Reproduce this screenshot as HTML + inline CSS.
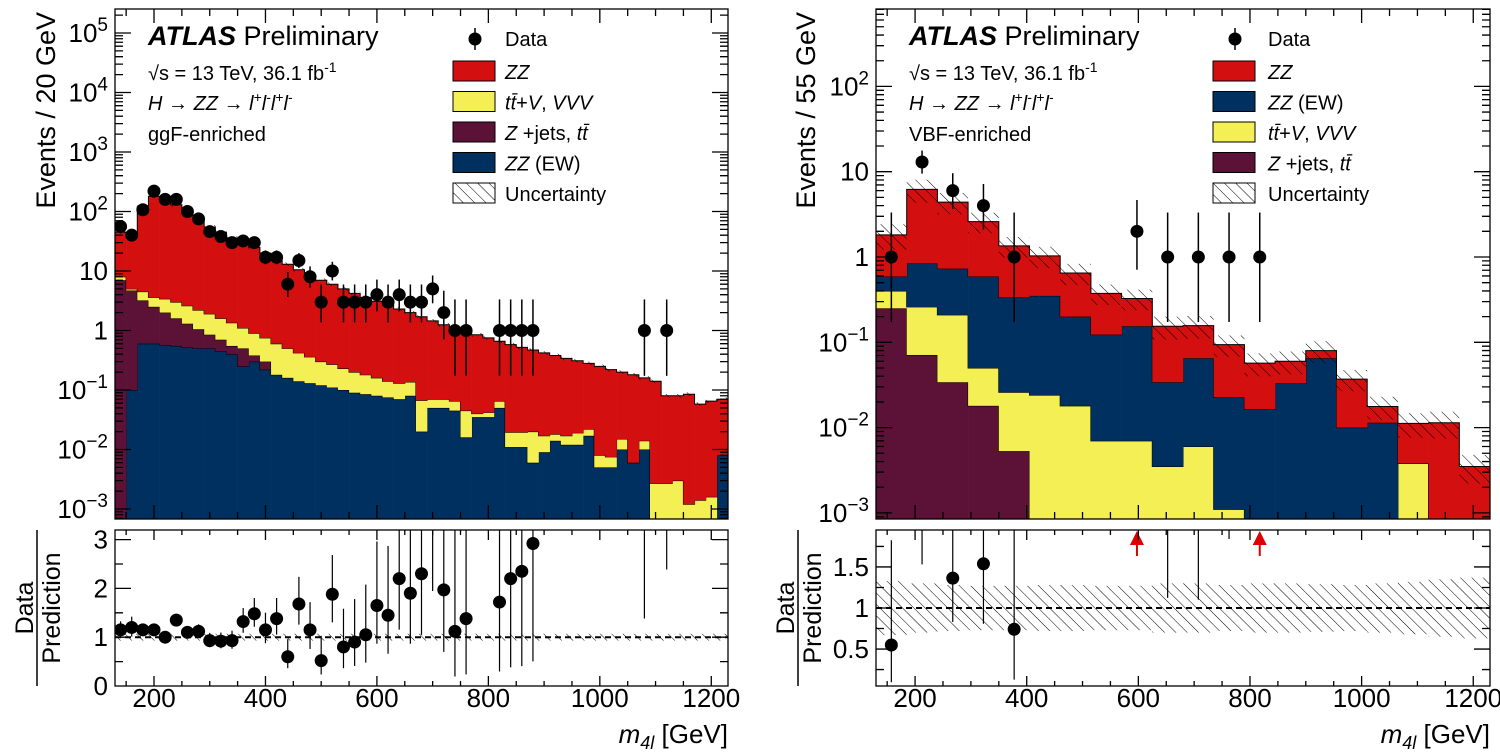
<!DOCTYPE html>
<html><head><meta charset="utf-8"><style>
html,body{margin:0;padding:0;background:#fff;}
svg{display:block;font-family:"Liberation Sans",Arial,sans-serif;}
</style></head><body>
<svg id="fig" width="1500" height="752" viewBox="0 0 1500 752" xmlns="http://www.w3.org/2000/svg">
<defs>
<pattern id="hatch" patternUnits="userSpaceOnUse" width="8" height="8" patternTransform="rotate(-45)">
<line x1="0" y1="0" x2="0" y2="8" stroke="#000" stroke-width="1"/>
</pattern>
<clipPath id="clipLM"><rect x="115" y="9" width="613" height="510"/></clipPath>
<clipPath id="clipRM"><rect x="876" y="9" width="614" height="510"/></clipPath>
<clipPath id="clipLR"><rect x="115" y="530" width="613" height="156"/></clipPath>
<clipPath id="clipRR"><rect x="876" y="530" width="614" height="156"/></clipPath>
</defs>
</svg>
<script>
// ---------- LEFT (ggF-enriched), 20 GeV bins from 130 ----------
const leftEwTop = [0.0005,0.1,0.6,0.6,0.57,0.55,0.52,0.5,0.5,0.45,0.4,0.25,0.3,0.22,0.18,0.16,0.14,0.13,0.12,0.11,0.1,0.09,0.085,0.08,0.075,0.07,0.08,0.02,0.05,0.05,0.045,0.016,0.035,0.035,0.05,0.011,0.011,0.006,0.009,0.014,0.012,0.012,0.017,0.005,0.005,0.01,0.006,0.01,0.0005,0.0005,0.0005,0.0005,0.0005,0.0005,0.008];
const leftZjetsTop = [7,4.7,3.2,2.5,2.0,1.6,1.3,1.05,0.85,0.7,0.55,0.5,0.38,0.3,0,0,0,0,0,0,0,0,0,0,0,0,0,0,0,0,0,0,0,0,0,0,0,0,0,0,0,0,0,0,0,0,0,0,0,0,0,0,0,0,0];
const leftTtvTop = [8,5,4.5,3.6,3.4,3.0,2.6,2.2,1.9,1.6,1.35,1.1,0.9,0.75,0.6,0.5,0.42,0.36,0.3,0.27,0.23,0.2,0.18,0.16,0.14,0.13,0.136,0.067,0.07,0.07,0.065,0.045,0.04,0.042,0.065,0.0195,0.0195,0.02,0.017,0.018,0.017,0.019,0.022,0.008,0.0075,0.015,0.006,0.014,0.0027,0.0027,0.003,0.0012,0.0014,0.0016,0.0078];
const leftZzTop = [45,40,120,180,150,130,100,75,55,45,36,30,25,20,16,13,10.5,8.5,7,6,5,4.2,3.6,3.1,2.7,2.3,2.0,1.7,1.45,1.25,1.1,0.95,0.85,0.75,0.66,0.58,0.52,0.47,0.42,0.38,0.34,0.31,0.28,0.25,0.22,0.2,0.18,0.16,0.14,0.08,0.08,0.085,0.058,0.065,0.07];
const leftData = [56,40,107,220,160,160,100,75,46,38,30,32,30,17,17,6,15,8,3,10,3,3,3,4,3,4,3,3,5,2,1,1,0,0,1,1,1,1,0,0,0,0,0,0,0,0,0,1,0,1,0,0,0,0,0];
const leftRatio = [1.15,1.2,1.15,1.15,1.0,1.35,1.1,1.12,0.93,0.92,0.93,1.32,1.48,1.15,1.38,0.6,1.68,1.15,0.52,1.88,0.8,0.9,1.05,1.65,1.45,2.2,1.9,2.3,3.4,1.97,1.12,1.38,0,0,1.72,2.2,2.35,2.92,0,0,0,0,0,0,0,0,0,8,0,13.8,0,0,0,0,0];
const leftUnc = [0.07,0.07,0.07,0.07,0.07,0.07,0.07,0.07,0.07,0.07,0.07,0.07,0.07,0.07,0.07,0.07,0.07,0.07,0.07,0.07,0.07,0.07,0.07,0.07,0.07,0.07,0.07,0.07,0.07,0.07,0.07,0.07,0.07,0.07,0.07,0.07,0.07,0.07,0.07,0.07,0.07,0.07,0.07,0.07,0.07,0.07,0.07,0.07,0.07,0.07,0.07,0.07,0.07,0.07,0.07];
// ---------- RIGHT (VBF-enriched), 55 GeV bins from 130 ----------
const rightZjetsTop = [0.25,0.071,0.034,0.018,0.0053,0,0,0,0,0,0,0,0,0,0,0,0,0,0,0];
const rightTtvTop = [0.4,0.26,0.21,0.05,0.026,0.024,0.018,0.007,0.007,0.0035,0.006,0.0011,0.0005,0.0005,0.0005,0.0005,0.0005,0.0038,0.0005,0.0005];
const rightEwTop = [0.59,0.84,0.73,0.59,0.336,0.35,0.2,0.123,0.154,0.034,0.065,0.0227,0.0165,0.033,0.065,0.01,0.0114,0.0005,0.0005,0.0005];
const rightZzTop = [1.82,6.2,4.4,2.6,1.35,1.03,0.65,0.375,0.326,0.154,0.157,0.094,0.057,0.06,0.08,0.037,0.0177,0.0112,0.0114,0.0035];
const rightData = [1,13,6,4,1,0,0,0,2,1,1,1,1,0,0,0,0,0,0,0];
const rightUnc = [0.33,0.3,0.28,0.27,0.27,0.28,0.28,0.27,0.27,0.3,0.3,0.28,0.3,0.3,0.29,0.28,0.3,0.32,0.35,0.37];
const xTickLabels = [200,400,600,800,1000,1200];
const leftLogTicks = [-3,-2,-1,0,1,2,3,4,5];
const rightLogTicks = [-3,-2,-1,0,1,2];
const leftRatioTicks = [0,1,2,3];
const rightRatioTicks = [0.5,1,1.5];

const NS = "http://www.w3.org/2000/svg";
const svg = document.getElementById('fig');
function mk(tag, attrs, parent){ const e=document.createElementNS(NS,tag); for(const k in attrs) e.setAttribute(k,attrs[k]); (parent||svg).appendChild(e); return e; }

const COL = {zz:'#d3100f', ew:'#00305f', ttv:'#f4ef55', zj:'#5c1236'};

function errDown(n){ if(n<=0) return 0; if(n===1) return 0.827; if(n===2) return 1.29; return Math.sqrt(n)-0.1; }
function errUp(n){ return Math.sqrt(n+0.75)+1; }

function makePanel(cfg){
  const X = g => cfg.x0 + (g-130)*(cfg.w/1100);
  const Y = v => cfg.yRef + (cfg.ref - Math.log10(Math.max(v,1e-9)))*cfg.dec;
  const yBot = 519, yTop = 9;
  const YR = r => cfg.r1 - (r-1)*cfg.rs;
  const gm = mk('g',{'clip-path':'url(#'+cfg.clipM+')'});
  
  
  const layers = cfg.layers;
  const nb = layers[0].vals.length;
  const cum = [];
  for(let i=0;i<nb;i++){
    let prev=0; const c=[];
    for(const L of layers){ prev=Math.max(prev, L.vals[i]); c.push(prev); }
    cum.push(c);
  }
  layers.forEach((L,k)=>{
    const g = mk('g',{}, gm);
    
    
    let d='';
    for(let i=0;i<nb;i++){
      const lo = k===0 ? yBot+2 : Math.min(yBot+2, Y(cum[i][k-1]));
      const hi = Math.min(yBot+2, Y(cum[i][k]));
      if(lo-hi>0.01){
        const r = mk('rect',{x:X(130+i*cfg.bw), y:hi, width:X(130+(i+1)*cfg.bw)-X(130+i*cfg.bw)+0.3, height:lo-hi, fill:L.color}, g);
        
        
      }
      const yy = Math.min(yBot+2, Y(cum[i][k]));
      d += (i===0?'M':'L')+X(130+i*cfg.bw)+','+yy+'L'+X(130+(i+1)*cfg.bw)+','+yy;
    }
    const p = mk('path',{d:d, fill:'none', stroke:'#000','stroke-width':1}, g);
    
    
  });
  // uncertainty hatch
  const gu = mk('g',{}, gm);
  
  
  for(let i=0;i<nb;i++){
    const t = cum[i][layers.length-1];
    const a = Y(t*(1+cfg.unc[i])), b = Y(t*(1-cfg.unc[i]));
    mk('rect',{x:X(130+i*cfg.bw), y:a, width:X(130+(i+1)*cfg.bw)-X(130+i*cfg.bw), height:b-a, fill:'url(#hatch)'}, gu);
  }
  // data
  const gd = mk('g',{}, gm);
  
  
  cfg.data.forEach((n,i)=>{
    if(n<=0) return;
    const cx = X(130+(i+0.5)*cfg.bw);
    mk('line',{x1:cx,x2:cx,y1:Y(n+errUp(n)),y2:Math.min(yBot+5,Y(Math.max(n-errDown(n),1e-6))),stroke:'#000','stroke-width':1.5}, gd);
    const c = mk('circle',{cx:cx, cy:Y(n), r:6.5, fill:'#000'}, gd);
    
    
  });
  // ratio
  const gr = mk('g',{'clip-path':'url(#'+cfg.clipR+')'});
  
  
  for(let i=0;i<nb;i++){
    const a = YR(1+cfg.unc[i]), b = YR(1-cfg.unc[i]);
    mk('rect',{x:X(130+i*cfg.bw), y:a, width:X(130+(i+1)*cfg.bw)-X(130+i*cfg.bw), height:b-a, fill:'url(#hatch)'}, gr);
  }
  const dl = mk('line',{x1:cfg.x0,x2:cfg.x0+cfg.w,y1:YR(1),y2:YR(1),stroke:'#000','stroke-width':2,'stroke-dasharray':'6,4'}, gr);
  
  
  const rmax = cfg.rMax;
  cfg.data.forEach((n,i)=>{
    if(n<=0) return;
    const r = cfg.ratio ? cfg.ratio[i] : n/cum[i][layers.length-1];
    if(!(r>0)) return;
    const cx = X(130+(i+0.5)*cfg.bw);
    const lo = r*(1-errDown(n)/n), hi = r*(1+errUp(n)/n);
    if(lo>rmax){
      const ar = mk('g',{}, svg);
      
      
      mk('line',{x1:cx,x2:cx,y1:556,y2:540,stroke:'#d00','stroke-width':2}, ar);
      mk('path',{d:`M${cx-7},${545}L${cx},${531}L${cx+7},${545}Z`, fill:'#d00'}, ar);
      return;
    }
    mk('line',{x1:cx,x2:cx,y1:YR(hi),y2:YR(lo),stroke:'#000','stroke-width':1.2}, gr);
    if(r<=rmax){
      const c = mk('circle',{cx:cx, cy:YR(r), r:6.5, fill:'#000'}, gr);
      
      
    }
  });
  // frames and ticks
  const ga = mk('g',{fill:'none',stroke:'#000','stroke-width':1.3});
  
  
  mk('rect',{x:cfg.x0,y:yTop,width:cfg.w,height:yBot-yTop}, ga);
  mk('rect',{x:cfg.x0,y:530,width:cfg.w,height:156}, ga);
  let d='';
  for(let g=150; g<=1230; g+=50){
    const x=X(g); const L = g%200===0?14:7; const Lr = g%200===0?10:5;
    d+=`M${x},${yBot}v${-L}M${x},${yTop}v${L}M${x},686v${-Lr}M${x},530v${Lr}`;
  }
  for(let e=cfg.logMin; e<=cfg.logMax; e++){
    for(let m=1;m<10;m++){
      const y = Y(m*Math.pow(10,e)); if(y<yTop||y>yBot) continue;
      const L = m===1?16:8;
      d+=`M${cfg.x0},${y}h${L}M${cfg.x0+cfg.w},${y}h${-L}`;
    }
  }
  cfg.rMinor.forEach(r=>{ const y=YR(r); const L=(cfg.rTicks.indexOf(r)>=0)?16:8; d+=`M${cfg.x0},${y}h${L}M${cfg.x0+cfg.w},${y}h${-L}`; });
  mk('path',{d:d}, ga);
  // labels
  const gl = mk('g',{'font-size':26,fill:'#000'});
  
  
  cfg.logTicks.forEach(e=>{
    const t = mk('text',{x:cfg.x0-7, y:Y(Math.pow(10,e))+9,'text-anchor':'end'}, gl);
    if(e===0) t.textContent='1';
    else if(e===1) t.textContent='10';
    else { t.textContent='10'; const s=mk('tspan',{dy:-11,'font-size':19}, t); s.textContent=(e<0?'\u2212':'')+Math.abs(e); }
  });
  cfg.rTicks.forEach(r=>{
    const t = mk('text',{x:cfg.x0-7, y:YR(r)+9,'text-anchor':'end'}, gl); t.textContent=String(r);
  });
  xTickLabels.forEach(v=>{
    const t = mk('text',{x:X(v), y:707,'text-anchor':'middle'}, gl); t.textContent=String(v);
  });
}

makePanel({id:'ggf', x0:115, w:613, bw:20, yRef:33, ref:5, dec:59.5, clipM:'clipLM', clipR:'clipLR',
  layers:[{name:'zz-ew',vals:leftEwTop,color:COL.ew},{name:'z-jets-ttbar',vals:leftZjetsTop,color:COL.zj},{name:'ttv-vvv',vals:leftTtvTop,color:COL.ttv},{name:'zz',vals:leftZzTop,color:COL.zz}],
  unc:leftUnc, data:leftData, ratio:leftRatio, r1:637.2, rs:48.8, rMax:3.2, logMin:-4, logMax:5, logTicks:leftLogTicks,
  rTicks:leftRatioTicks, rMinor:[0.5,1,1.5,2,2.5,3]});
makePanel({id:'vbf', x0:876, w:614, bw:55, yRef:257, ref:0, dec:85.3, clipM:'clipRM', clipR:'clipRR',
  layers:[{name:'z-jets-ttbar',vals:rightZjetsTop,color:COL.zj},{name:'ttv-vvv',vals:rightTtvTop,color:COL.ttv},{name:'zz-ew',vals:rightEwTop,color:COL.ew},{name:'zz',vals:rightZzTop,color:COL.zz}],
  unc:rightUnc, data:rightData, ratio:null, r1:608, rs:82.1, rMax:1.95, logMin:-4, logMax:2, logTicks:rightLogTicks,
  rTicks:rightRatioTicks, rMinor:[0.25,0.5,0.75,1,1.25,1.5,1.75]});

// ---------- text ----------
function addText(parent, x, y, html, attrs, name){
  const t = mk('text', Object.assign({x:x,y:y}, attrs||{}), parent);
  t.innerHTML = html;
  
  
  return t;
}
[[148,'ggF-enriched',453,505,['ZZ','ttv','zj','ew'],'ggf'],[909,'VBF-enriched',1213,1268,['ZZ','ew','ttv','zj'],'vbf']].forEach(p=>{
  const [ax,tag,bx,tx,order,id] = p;
  const g = mk('g',{});
  
  
  addText(g, ax, 45, '<tspan font-weight="bold" font-style="italic">ATLAS</tspan> Preliminary', {'font-size':27}, id+'-atlas-label');
  addText(g, ax, 80, '√s = 13 TeV, 36.1 fb<tspan dy="-8" font-size="14">-1</tspan>', {'font-size':20}, id+'-energy-lumi');
  addText(g, ax, 110, '<tspan font-style="italic">H</tspan> → <tspan font-style="italic">ZZ</tspan> → <tspan font-style="italic">l</tspan><tspan dy="-8" font-size="14">+</tspan><tspan dy="8" font-style="italic">l</tspan><tspan dy="-8" font-size="14">-</tspan><tspan dy="8" font-style="italic">l</tspan><tspan dy="-8" font-size="14">+</tspan><tspan dy="8" font-style="italic">l</tspan><tspan dy="-8" font-size="14">-</tspan>', {'font-size':20}, id+'-channel-label');
  addText(g, ax, 141, tag, {'font-size':20}, id+'-category-label');
  // legend
  const lg = mk('g',{'font-size':20});
  
  
  const mx = bx+22;
  mk('line',{x1:mx,x2:mx,y1:28,y2:50,stroke:'#000','stroke-width':1.5}, lg);
  mk('circle',{cx:mx,cy:39,r:6.5,fill:'#000'}, lg);
  addText(lg, tx, 46, 'Data', {}, id+'-legend-data');
  const lab = {ZZ:['<tspan font-style="italic">ZZ</tspan>',COL.zz], ew:['<tspan font-style="italic">ZZ</tspan>  (EW)',COL.ew],
    ttv:['<tspan font-style="italic">t</tspan><tspan font-style="italic">t̄</tspan>+<tspan font-style="italic">V</tspan>, <tspan font-style="italic">VVV</tspan>',COL.ttv],
    zj:['<tspan font-style="italic">Z</tspan> +jets, <tspan font-style="italic">t</tspan><tspan font-style="italic">t̄</tspan>',COL.zj]};
  order.forEach((k,j)=>{
    const cy = 71 + j*30.5;
    const r = mk('rect',{x:bx,y:cy-10,width:42,height:20,fill:lab[k][1],stroke:'#000','stroke-width':1}, lg);
    
    
    addText(lg, tx, cy+8, lab[k][0], {}, id+'-legend-label-'+k.toLowerCase());
  });
  const cy = 71+4*30.5;
  mk('rect',{x:bx,y:cy-10,width:42,height:20,fill:'url(#hatch)',stroke:'#000','stroke-width':1}, lg);
  addText(lg, tx, cy+8, 'Uncertainty', {}, id+'-legend-uncertainty');
});
// axis titles
[[55,'Events / 20 GeV',115,728,'ggf'],[815,'Events / 55 GeV',876,1490,'vbf']].forEach(p=>{
  const [x,txt,x0,x1,id] = p;
  addText(svg, 0, 0, txt, {'font-size':27,'text-anchor':'end',transform:`translate(${x},12) rotate(-90)`}, id+'-y-axis-title');
  addText(svg, 0, 0, 'Data', {'font-size':25,'text-anchor':'middle',transform:`translate(${x0-82},608) rotate(-90)`}, id+'-ratio-title-numerator');
  const ln = mk('line',{x1:x0-78,x2:x0-78,y1:530,y2:686,stroke:'#000','stroke-width':1.5});
  
  
  addText(svg, 0, 0, 'Prediction', {'font-size':25,'text-anchor':'middle',transform:`translate(${x0-55},608) rotate(-90)`}, id+'-ratio-title-denominator');
  addText(svg, x1, 743, '<tspan font-style="italic">m</tspan><tspan font-style="italic" font-size="18" dy="6">4l</tspan><tspan dy="-6"> [GeV]</tspan>', {'font-size':26,'text-anchor':'end'}, id+'-x-axis-title');
});
</script>
</body></html>
